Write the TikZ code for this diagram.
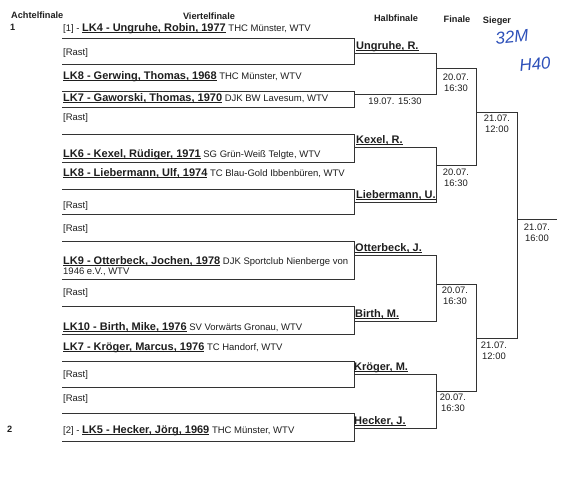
\documentclass[tikz,border=0pt]{standalone}
\usepackage{fontspec}
\setmainfont{Liberation Sans}
\definecolor{ink}{RGB}{30,30,30}
\definecolor{pen}{RGB}{45,80,185}
\newcommand\myul[1]{\setbox0\hbox{#1}\leavevmode\rlap{\rule[-1.3pt]{\wd0}{0.7pt}}\box0}
\newcommand\pn[1]{{\bfseries\fontsize{11}{12}\selectfont\myul{#1}}}
\tikzset{
  br/.style={draw=black!80, line width=0.85pt},
  ent/.style={anchor=base west, inner sep=0pt, text=ink, font=\fontsize{9.5}{10.5}\selectfont},
  hd/.style={anchor=base, inner sep=0pt, text=ink, font=\bfseries\fontsize{9.2}{11}\selectfont},
  dt/.style={anchor=north, align=center, inner sep=0pt, text=ink, font=\fontsize{9.4}{10.8}\selectfont},
  win/.style={anchor=base west, inner sep=0pt, text=ink},
  hand/.style={inner sep=0pt, text=pen, font=\itshape\fontsize{17}{19}\selectfont}
}
\begin{document}
\begin{tikzpicture}[x=1pt,y=-1pt]
\useasboundingbox (0,0) rectangle (576,485);
% headers
\node[hd, anchor=base west] (h1) at (11,18.5) {Achtelfinale};
\node[hd] (h2) at (209,19.5) {Viertelfinale};
\node[hd] (h3) at (396,21.5) {Halbfinale};
\node[hd] (h4) at (457,22.5) {Finale};
\node[hd] (h5) at (497,23.5) {Sieger};
\node[hd, anchor=base west] (s1) at (10,30.5) {1};
\node[hd, anchor=base west] (s2) at (7,432) {2};
% handwriting
\node[hand, rotate=6] (hw1) at (512,37) {32M};
\node[hand, rotate=6] (hw2) at (535,64) {H40};
% bracket lines
\foreach \a/\b in {38/64, 91/107, 134/162, 189/214, 241/279, 306/334, 361/387, 413/441}
  \draw[br] (62,\a) -- (354,\a) -- (354,\b) -- (62,\b);
\foreach \a/\b in {53/94, 147/202, 255/321, 374/428}
  \draw[br] (354,\a) -- (436,\a) -- (436,\b) -- (354,\b);
\foreach \a/\b in {68/165, 284/391}
  \draw[br] (436,\a) -- (476,\a) -- (476,\b) -- (436,\b);
\draw[br] (476,112) -- (517,112) -- (517,338) -- (476,338);
\draw[br] (517,219) -- (557,219);
% entries
\node[ent] (e1) at (63,31) {[1] - \pn{LK4 - Ungruhe, Robin, 1977} THC Münster, WTV};
\node[ent] (e2) at (63,55) {[Rast]};
\node[ent] (e3) at (63,79) {\pn{LK8 - Gerwing, Thomas, 1968} THC Münster, WTV};
\node[ent] (e4) at (63,101) {\pn{LK7 - Gaworski, Thomas, 1970} DJK BW Lavesum, WTV};
\node[ent] (e5) at (63,120) {[Rast]};
\node[ent] (e6) at (63,157) {\pn{LK6 - Kexel, Rüdiger, 1971} SG Grün-Weiß Telgte, WTV};
\node[ent] (e7) at (63,176) {\pn{LK8 - Liebermann, Ulf, 1974} TC Blau-Gold Ibbenbüren, WTV};
\node[ent] (e8) at (63,208) {[Rast]};
\node[ent] (e9) at (63,231) {[Rast]};
\node[ent] (e10) at (63,264) {\pn{LK9 - Otterbeck, Jochen, 1978} DJK Sportclub Nienberge von};
\node[ent] (e10b) at (63,274.5) {1946 e.V., WTV};
\node[ent] (e11) at (63,295) {[Rast]};
\node[ent] (e12) at (63,330) {\pn{LK10 - Birth, Mike, 1976} SV Vorwärts Gronau, WTV};
\node[ent] (e13) at (63,350) {\pn{LK7 - Kröger, Marcus, 1976} TC Handorf, WTV};
\node[ent] (e14) at (63,377) {[Rast]};
\node[ent] (e15) at (63,401) {[Rast]};
\node[ent] (e16) at (63,433) {[2] - \pn{LK5 - Hecker, Jörg, 1969} THC Münster, WTV};
% semifinal names
\node[win] (w1) at (356,49.5) {\pn{Ungruhe, R.}};
\node[win] (w3) at (356,143.5) {\pn{Kexel, R.}};
\node[win] (w4) at (356,198.5) {\pn{Liebermann, U.}};
\node[win] (w5) at (355,251.5) {\pn{Otterbeck, J.}};
\node[win] (w6) at (355,317.5) {\pn{Birth, M.}};
\node[win] (w7) at (354,370.5) {\pn{Kröger, M.}};
\node[win] (w8) at (354,424.5) {\pn{Hecker, J.}};
% dates
\node[dt] (d0) at (395,97.7) {19.07. 15:30};
\node[dt] (d1) at (456,73.7) {20.07.\\16:30};
\node[dt] (d2) at (456,168.7) {20.07.\\16:30};
\node[dt] (d3) at (455,286.7) {20.07.\\16:30};
\node[dt] (d4) at (453,393.7) {20.07.\\16:30};
\node[dt] (d5) at (497,114.7) {21.07.\\12:00};
\node[dt] (d6) at (494,341.7) {21.07.\\12:00};
\node[dt] (d7) at (537,223.7) {21.07.\\16:00};
\end{tikzpicture}
\end{document}
